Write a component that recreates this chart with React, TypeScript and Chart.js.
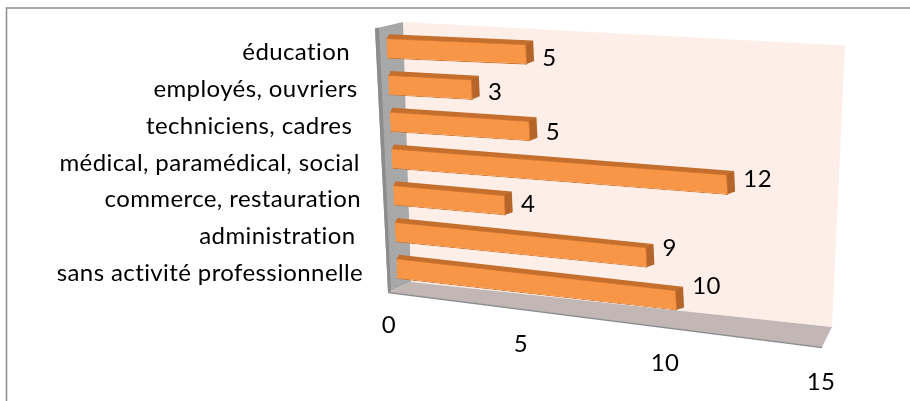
import React, { useEffect, useRef } from 'react';
import { Chart, registerables } from 'chart.js';

Chart.register(...registerables);

// ---- data ----
const categories: string[] = [
  'éducation ',
  'employés, ouvriers',
  'techniciens, cadres ',
  'médical, paramédical, social',
  'commerce, restauration',
  'administration ',
  'sans activité professionnelle',
];
const values: number[] = [5, 3, 5, 12, 4, 9, 10];
const xTicks: number[] = [0, 5, 10, 15];

// ---- style / perspective constants ----
const FONT = 'Lato, "Open Sans", sans-serif';
const FONT_SIZE = 24;
const C0 = 0.045; // horizontal shift per px down
const K0 = 0.0372; // vertical slope at top
const K1 = 0.000318; // slope increase per px down
const DX = 7;
const DY = -4;

function poly(ctx: CanvasRenderingContext2D, pts: number[][], fill: string) {
  ctx.beginPath();
  ctx.moveTo(pts[0][0], pts[0][1]);
  for (let i = 1; i < pts.length; i++) ctx.lineTo(pts[i][0], pts[i][1]);
  ctx.closePath();
  ctx.fillStyle = fill;
  ctx.fill();
}

const scene = {
  id: 'scene3d',
  beforeDatasetsDraw(chart: any) {
    const { ctx, chartArea: a } = chart;
    const L = a.left, T = a.top, R = a.right, B = a.bottom;
    ctx.save();
    // back wall
    poly(ctx, [[L + 17, T - 8], [R + 39, T + 15.4], [R + 26, B + 40], [L + 25, B - 5]], '#FDEEE8');
    // floor
    poly(ctx, [[L + 25, B - 5], [R + 26, B + 40], [R + 16, B + 60], [L + 2, B + 5]], '#C2B7B4');
    ctx.beginPath();
    ctx.moveTo(L + 2, B + 5.5);
    ctx.lineTo(R + 16, B + 60.5);
    ctx.strokeStyle = '#8E8E8E';
    ctx.lineWidth = 1.5;
    ctx.stroke();
    // left wall
    poly(ctx, [[L - 11, T - 1.6], [L + 17, T - 8], [L + 25, B - 5], [L + 2, B + 5]], '#A8A8A8');
    poly(ctx, [[L - 11, T - 1.6], [L - 7, T - 2.4], [L + 5, B + 4.4], [L + 2, B + 5]], '#8C8C8C');
    ctx.restore();
  },
  beforeDatasetDraw(chart: any, args: any) {
    const { ctx, chartArea: a } = chart;
    args.meta.data.forEach((el: any) => {
      const p = el.getProps(['x', 'y', 'base', 'height'], true);
      const k = K0 + K1 * (p.y - a.top);
      ctx.save();
      ctx.transform(1, k, C0, 1, -C0 * a.top, -k * a.left);
      const top = p.y - p.height / 2;
      const bot = p.y + p.height / 2;
      // top face (overlaps the front face slightly to avoid seams)
      poly(ctx, [[p.base, top + 2], [p.x - 1, top + 2], [p.x + DX, top + DY], [p.base + DX * 0.4, top + DY]], '#C46F2D');
      // right face
      poly(ctx, [[p.x - 2, top + 1], [p.x + DX, top + DY], [p.x + DX, bot + DY], [p.x - 2, bot]], '#B5642A');
      el.draw(ctx);
      ctx.restore();
    });
    return false;
  },
  afterDraw(chart: any) {
    const { ctx, chartArea: a } = chart;
    const xs = chart.scales.x;
    const ys = chart.scales.y;
    const fs = FONT_SIZE;
    ctx.save();
    ctx.fillStyle = '#000';
    ctx.font = `${fs}px ${FONT}`;
    try {
      (ctx as any).letterSpacing = '0.4px';
    } catch (e) {
      /* ignore */
    }
    ctx.textBaseline = 'alphabetic';
    // category labels
    ctx.textAlign = 'right';
    chart.data.labels.forEach((lab: string, i: number) => {
      const v = ys.getPixelForTick(i);
      ctx.fillText(lab, a.left - 30 + 0.03 * (v - a.top), v + 12);
    });
    // x tick labels along the floor front edge
    ctx.textAlign = 'center';
    xTicks.forEach((t) => {
      const du = xs.getPixelForValue(t) - a.left;
      ctx.fillText(String(t), a.left + 3 + 0.9 * du + 0.000306 * du * du, a.bottom + 38 + 0.136 * du + 0.34 * fs);
    });
    // data labels
    ctx.textAlign = 'left';
    const meta = chart.getDatasetMeta(0);
    meta.data.forEach((el: any, i: number) => {
      const p = el.getProps(['x', 'y', 'height'], true);
      const xe = p.x + C0 * (p.y - p.height / 2 - a.top);
      ctx.fillText(String(chart.data.datasets[0].data[i]), xe + 16, p.y + 0.055 * (p.x - a.left) + 2 + 0.34 * fs);
    });
    // frame
    ctx.beginPath();
    ctx.moveTo(6.5, 401);
    ctx.lineTo(6.5, 8);
    ctx.lineTo(910, 8);
    ctx.strokeStyle = '#8C8C8C';
    ctx.lineWidth = 1.5;
    ctx.stroke();
    ctx.restore();
  },
};

export default function App() {
  const ref = useRef<HTMLCanvasElement>(null);
  useEffect(() => {
    const chart = new Chart(ref.current as HTMLCanvasElement, {
      type: 'bar',
      data: {
        labels: categories,
        datasets: [
          {
            data: values,
            backgroundColor: '#F79646',
            borderColor: '#D27530',
            borderWidth: 1,
            barPercentage: 0.56,
            categoryPercentage: 1,
          },
        ],
      },
      options: {
        indexAxis: 'y',
        responsive: false,
        animation: false,
        layout: { padding: { left: 386, top: 30, right: 104, bottom: 114 } },
        plugins: { legend: { display: false }, tooltip: { enabled: false } },
        scales: {
          x: { display: false, min: 0, max: 15, ticks: { stepSize: 5 } },
          y: { display: false },
        },
      },
      plugins: [scene],
    } as any);
    return () => chart.destroy();
  }, []);
  return (
    <div style={{ position: 'fixed', left: 0, top: 0, width: 910, height: 401, background: '#fff' }}>
      <canvas ref={ref} width={910} height={401} style={{ display: 'block' }} />
    </div>
  );
}
